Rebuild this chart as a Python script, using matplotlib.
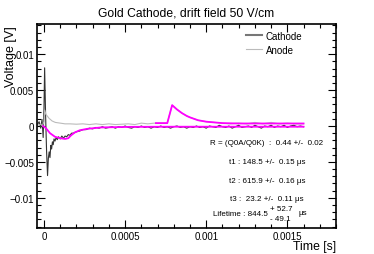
import numpy as np
import matplotlib
matplotlib.use("Agg")
import matplotlib.pyplot as plt
from matplotlib.ticker import MultipleLocator, FuncFormatter

plt.rcParams['font.family'] = ['Liberation Sans', 'DejaVu Sans']

# --- data (time in s, voltage in V) ---
cathode_t = [-0.00004, -0.00003, -0.00002, -0.000012, -0.000005, 0.0, 0.000004,
             0.00001, 0.000016, 0.000022, 0.000027, 0.000032, 0.000037, 0.000042,
             0.000047, 0.000052, 0.000057, 0.000062, 0.000068, 0.000075, 0.000082,
             0.00009, 0.0001, 0.00011, 0.00012, 0.00013, 0.00014, 0.00015, 0.00016,
             0.00017, 0.00018, 0.0002, 0.00022, 0.00024, 0.00026, 0.00028, 0.0003,
             0.00032, 0.00034, 0.00036, 0.00038, 0.0004, 0.00042, 0.00044, 0.00046,
             0.00048, 0.0005, 0.00052, 0.00054, 0.00056, 0.00058, 0.0006, 0.00062,
             0.00064, 0.00066, 0.00068, 0.0007, 0.00072, 0.00074, 0.00076, 0.00078,
             0.0008, 0.00082, 0.00084, 0.00086, 0.00088, 0.0009, 0.00092, 0.00094,
             0.00096, 0.00098, 0.001, 0.00102, 0.00104, 0.00106, 0.00108, 0.0011,
             0.00112, 0.00114, 0.00116, 0.00118, 0.0012, 0.00122, 0.00124, 0.00126,
             0.00128, 0.0013, 0.00132, 0.00134, 0.00136, 0.00138, 0.0014, 0.00142,
             0.00144, 0.00146, 0.00148, 0.0015, 0.00152, 0.00154, 0.00156, 0.00158,
             0.0016]
cathode_v = [0.0002, 0.0006, -0.0003, 0.0009, -0.0016, 0.0025, 0.0081,
             0.0015, -0.0035, -0.0069, -0.0045, -0.0036, -0.0044, -0.0027,
             -0.0032, -0.0022, -0.0026, -0.0018, -0.0021, -0.0016, -0.0019,
             -0.0015, -0.0018, -0.0014, -0.0017, -0.0014, -0.0015, -0.0012, -0.0013,
             -0.0010, -0.0010, -0.0008, -0.0007, -0.0005, -0.0005, -0.0003, -0.0004,
             -0.0002, -0.0003, -0.0001, -0.0003, -0.0002, -0.0001, -0.0003, -0.0001,
             -0.0002, 0.0000, -0.0002, -0.0003, -0.0001, -0.0002, 0.0000, -0.0002,
             -0.0001, -0.0003, -0.0001, -0.0002, 0.0000, -0.0002, -0.0001, -0.0003,
             -0.0001, 0.0000, -0.0002, -0.0001, -0.0003, -0.0001, -0.0002, 0.0000,
             -0.0002, -0.0001, -0.0003, 0.0000, -0.0001, -0.0002, 0.0001, -0.0001,
             -0.0002, 0.0000, -0.0003, -0.0001, 0.0001, -0.0002, -0.0001, 0.0000,
             -0.0002, 0.0001, -0.0001, -0.0003, 0.0000, -0.0001, 0.0001, -0.0002,
             0.0000, -0.0001, 0.0001, -0.0002, 0.0000, 0.0001, -0.0001, 0.0000,
             -0.0001]

anode_t = [-0.00004, -0.00003, -0.00002, -0.00001, 0.0, 0.000005, 0.000012,
           0.00002, 0.00003, 0.00004, 0.00005, 0.00007, 0.0001, 0.00013, 0.00016,
           0.0002, 0.00024, 0.00028, 0.00032, 0.00036, 0.0004, 0.00044, 0.00048,
           0.00052, 0.00056, 0.0006, 0.00064, 0.00068, 0.00072, 0.00076, 0.00079,
           0.0008, 0.00082, 0.00085, 0.00088, 0.0009, 0.00095, 0.001, 0.00105,
           0.0011, 0.00115, 0.0012, 0.00125, 0.0013, 0.00135, 0.0014, 0.00145,
           0.0015, 0.00155, 0.0016]
anode_v = [0.0002, 0.0001, 0.0003, 0.0000, 0.0006, 0.0022, 0.0016,
           0.0014, 0.0011, 0.0009, 0.0007, 0.0005, 0.0004, 0.0003, 0.0003,
           0.00025, 0.0003, 0.0002, 0.0003, 0.0002, 0.0003, 0.0002, 0.00025,
           0.0003, 0.0002, 0.0004, 0.0003, 0.0004, 0.0004, 0.0004, 0.0029,
           0.0027, 0.0023, 0.0018, 0.0014, 0.0012, 0.0008, 0.0006, 0.0005,
           0.0004, 0.0003, 0.0004, 0.0003, 0.0005, 0.0003, 0.0005, 0.0003,
           0.0004, 0.0003, 0.0003]

fit_k_t = [-0.000006, 0.000012, 0.000037, 0.000068, 0.0001, 0.00013, 0.00015,
           0.000167, 0.00019, 0.00022, 0.000265, 0.00035, 0.00053, 0.0008, 0.0012,
           0.0016]
fit_k_v = [0.0, -0.0003, -0.0010, -0.0015, -0.0017, -0.0018, -0.0017,
           -0.0013, -0.0009, -0.0006, -0.0004, -0.0002, -0.00012, -0.0001, -0.0001,
           -0.0001]

fit_a_t = [0.00069, 0.00076, 0.00079, 0.0008, 0.00082, 0.00085, 0.00088, 0.0009,
           0.00095, 0.001, 0.00105, 0.0011, 0.0012, 0.0016]
fit_a_v = [0.0004, 0.0004, 0.0029, 0.0027, 0.0023, 0.0018, 0.0014, 0.0012,
           0.0008, 0.0006, 0.0005, 0.0004, 0.00035, 0.00035]

fit_lines = ["R = (Q0A/Q0K)  :  0.44 +/-  0.02",
             "t1 : 148.5 +/-  0.15 \u03bcs",
             "t2 : 615.9 +/-  0.16 \u03bcs",
             "t3 :  23.2 +/-  0.11 \u03bcs"]
lifetime = "Lifetime : 844.5"
lifetime_up = "+ 52.7"
lifetime_down = "- 49.1"

fig = plt.figure(figsize=(3.74, 2.55), dpi=100)
ax = fig.add_axes([37/374, 1 - 229/255, 299/374, 204/255])

ax.plot(cathode_t, cathode_v, color='#333333', lw=0.8, label='Cathode')
ax.plot(anode_t, anode_v, color='#bbbbbb', lw=0.8, label='Anode')
ax.plot(fit_k_t, fit_k_v, color='#ff00ff', lw=1.3)
ax.plot(fit_a_t, fit_a_v, color='#ff00ff', lw=1.3)

ax.set_xlim(-0.000043, 0.0018)
ax.set_ylim(-0.0142, 0.0142)

ax.xaxis.set_major_locator(MultipleLocator(0.0005))
ax.xaxis.set_minor_locator(MultipleLocator(0.0001))
ax.yaxis.set_major_locator(MultipleLocator(0.005))
ax.yaxis.set_minor_locator(MultipleLocator(0.001))
ax.xaxis.set_major_formatter(FuncFormatter(lambda v, p: '0' if abs(v) < 1e-12 else f'{v:g}'))
ax.yaxis.set_major_formatter(FuncFormatter(
    lambda v, p: '0' if abs(v) < 1e-12 else f'{v:g}'.replace('-', '\u2212')))
ax.tick_params(which='both', direction='in', top=True, right=True, labelsize=7, pad=2)
ax.tick_params(which='major', length=6, width=0.8)
ax.tick_params(which='minor', length=3, width=0.8)
for s in ax.spines.values():
    s.set_linewidth(1.2)

leg = ax.legend(loc='upper left', bbox_to_anchor=(0.67, 1.01), frameon=False,
                fontsize=7, handlelength=1.6, handletextpad=0.4, labelspacing=0.4)
leg.get_lines()[0].set_linewidth(1.5)
leg.get_lines()[0].set_color('#777777')

pos = [(0.768, 0.417), (0.769, 0.328), (0.769, 0.235), (0.769, 0.147)]
for txt, (x, y) in zip(fit_lines, pos):
    ax.text(x, y, txt, transform=ax.transAxes, ha='center', va='center', fontsize=5.8)
ax.text(0.773, 0.069, lifetime, transform=ax.transAxes, ha='right', va='center', fontsize=5.8)
ax.text(0.779, 0.097, lifetime_up, transform=ax.transAxes, ha='left', va='center', fontsize=5.8)
ax.text(0.779, 0.048, lifetime_down, transform=ax.transAxes, ha='left', va='center', fontsize=5.8)
ax.text(0.875, 0.074, "\u03bcs", transform=ax.transAxes, ha='left', va='center', fontsize=5.8)

fig.text(186/374, 1 - 13/255, "Gold Cathode, drift field 50 V/cm", ha='center',
         va='center', fontsize=8.7)
fig.text(11/374, 1 - 26/255, "Voltage [V]", rotation=90, ha='center', va='top', fontsize=9)
fig.text(336/374, 1 - 247/255, "Time [s]", ha='right', va='center', fontsize=8.8)

fig.savefig("out.png", dpi=100)
